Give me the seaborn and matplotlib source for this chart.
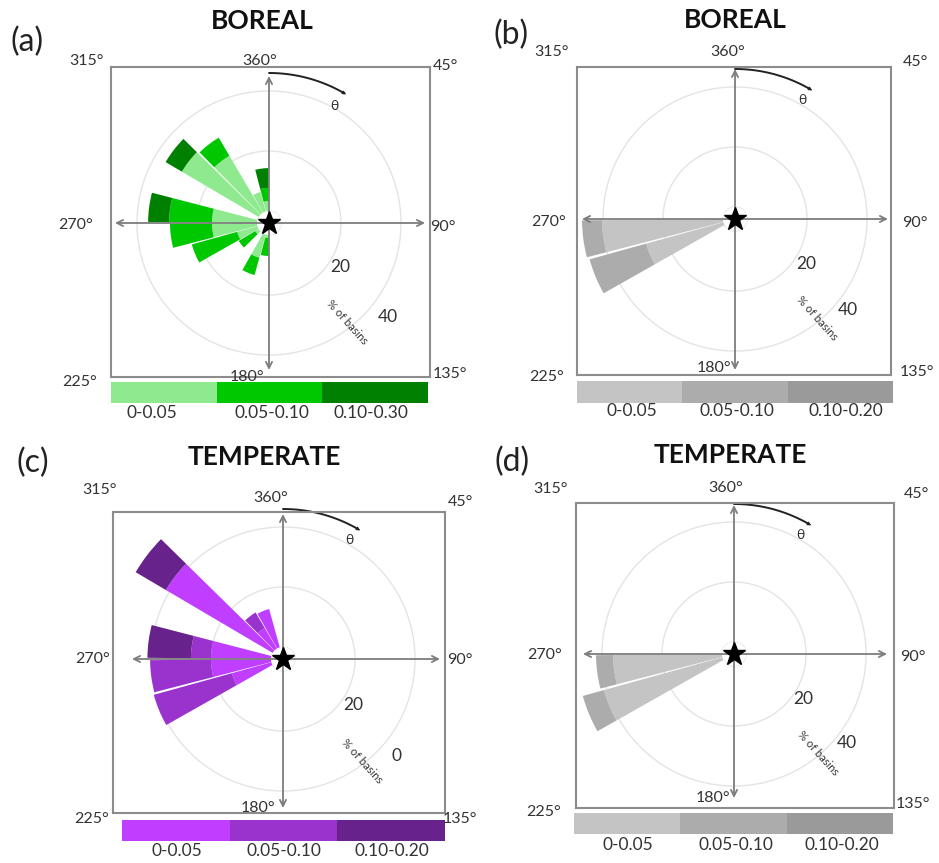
import numpy as np
import matplotlib
matplotlib.use("Agg")
import matplotlib.pyplot as plt
import seaborn as sns
from matplotlib.colors import ListedColormap

# ---------------- data (percent of basins per direction bin, stacked classes) -------------
dirs_a = [187.5, 202.5, 232.5, 247.5, 262.5, 277.5, 307.5, 322.5, 337.5, 352.5]
a_low = [1.0, 8.0, 1.3, 7.0, 15.0, 15.0, 29.7, 22.0, 6.7, 3.3]
a_mid = [6.0, 6.0, 6.4, 15.7, 14.0, 14.3, 0.0, 7.0, 0.0, 4.4]
a_high = [0.0, 0.0, 0.0, 0.0, 0.0, 7.0, 6.3, 0.0, 0.0, 6.6]

dirs_b = [247.5, 262.5]
b_low = [26.7, 40.3]
b_mid = [19.6, 6.7]
b_high = [0.0, 0.0]

dirs_c = [247.5, 262.5, 277.5, 307.5, 322.5, 337.5]
c_low = [13.7, 20.0, 20.0, 41.3, 8.0, 13.3]
c_mid = [27.0, 20.3, 6.7, 0.0, 6.0, 0.0]
c_high = [0.0, 0.0, 14.5, 11.7, 0.0, 0.0]

dirs_d = [247.5, 262.5]
d_low = [41.0, 36.3]
d_mid = [7.3, 5.7]
d_high = [0.0, 0.0]

classes_a = ["0-0.05", "0.05-0.10", "0.10-0.30"]
classes_bcd = ["0-0.05", "0.05-0.10", "0.10-0.20"]
ring_ticks = [20, 40]
compass_labels = ["315°", "360°", "45°", "270°", "90°", "225°", "180°", "135°"]

greens = ["#8fe98f", "#00c800", "#008000"]
purples = ["#bf3eff", "#9a32cd", "#68228b"]
greys = ["#c4c4c4", "#acacac", "#9a9a9a"]

# ---------------- layout helpers ----------------
W, H = 939, 863
PX = 3.0          # pixels per percent unit
HOLE = 12.0       # radius of empty centre (px)
RMAX = 60.0

sns.set_theme(style="white")
plt.rcParams["font.family"] = ["Lato", "DejaVu Sans"]

fig = plt.figure(figsize=(W / 100, H / 100), dpi=100)


def fx(x):
    return x / W


def fy(y):
    return 1 - y / H


def txt(x, y, s, size=12, **kw):
    kw.setdefault("color", "#333333")
    fig.text(fx(x), fy(y), s, ha="center", va="center", fontsize=size, **kw)


def panel(p):
    left, top, right, bottom = p["box"]
    cx, cy = p["center"]
    # ---- polar axes for the rose ----
    R = (RMAX + HOLE / PX) * PX
    pax = fig.add_axes([fx(cx - R), fy(cy + R), 2 * R / W, 2 * R / H], projection="polar")
    pax.set_theta_zero_location("N")
    pax.set_theta_direction(-1)
    pax.set_ylim(0, RMAX)
    pax.set_rorigin(-HOLE / PX)
    pax.patch.set_alpha(0)
    pax.grid(False)
    pax.set_xticks([])
    pax.set_yticks([])
    for s in pax.spines.values():
        s.set_color("none")
        s.set_linewidth(0)
    t = np.linspace(0, 2 * np.pi, 361)
    for r in [0] + ring_ticks:
        pax.plot(t, np.full_like(t, r), color="#e4e4e4", lw=1.0, zorder=1)
    th = np.deg2rad(p["dirs"])
    base = np.zeros(len(th))
    for vals, col in zip(p["segs"], p["colors"]):
        vals = np.asarray(vals, float)
        pax.bar(th, vals, width=np.deg2rad(14), bottom=base, color=col,
                edgecolor="none", linewidth=0, align="center", zorder=2)
        base = base + vals
    # theta arc
    ta = np.deg2rad(np.linspace(0, 29.5, 60))
    pax.plot(ta, np.full_like(ta, 46.0), color="#222222", lw=1.4, zorder=4)
    pax.annotate("", xy=(np.deg2rad(31), 46.0), xytext=(np.deg2rad(29), 46.0),
                 arrowprops=dict(arrowstyle="-|>", color="#222222", lw=0.8,
                                 mutation_scale=5, shrinkA=0, shrinkB=0))

    # ---- cartesian overlay: box, arrows, star ----
    ov = fig.add_axes([fx(left), fy(bottom), (right - left) / W, (bottom - top) / H])
    ov.set_xlim((left - cx) / PX, (right - cx) / PX)
    ov.set_ylim((cy - bottom) / PX, (cy - top) / PX)
    ov.patch.set_alpha(0)
    ov.set_xticks([])
    ov.set_yticks([])
    for s in ov.spines.values():
        s.set_visible(True)
        s.set_color("#8c8c8c")
        s.set_linewidth(1.5)
    L, Rr, T, B = p["arrows"]
    ap = dict(arrowstyle="<->", color="#7d7d7d", lw=1.3, mutation_scale=11,
              shrinkA=0, shrinkB=0)
    ov.annotate("", xy=((L - cx) / PX, 0), xytext=((Rr - cx) / PX, 0), arrowprops=ap)
    ov.annotate("", xy=(0, (cy - T) / PX), xytext=(0, (cy - B) / PX), arrowprops=ap)
    ov.plot([0], [0], marker="*", ms=17, color="black", zorder=6, clip_on=False)

    # ---- legend strip ----
    lx0, ly0, lx1, ly1 = p["legend"]
    lax = fig.add_axes([fx(lx0), fy(ly1), (lx1 - lx0) / W, (ly1 - ly0) / H])
    sns.heatmap(np.array([[0, 1, 2]]), ax=lax, cmap=ListedColormap(p["colors"]),
                vmin=-0.5, vmax=2.5, cbar=False, xticklabels=False, yticklabels=False)
    for lab, x in zip(p["classes"], p["leg_x"]):
        txt(x, p["leg_y"], lab, size=12.5)

    # ---- texts ----
    for s, (x, y) in zip(compass_labels, p["compass"]):
        txt(x, y, s, size=11.5)
    txt(*p["tag"], p["tag_s"], size=23, color="#222222")
    txt(*p["title"], p["title_s"], size=19, weight="bold", color="#111111")
    (x20, y20), (x40, y40) = p["rings"]
    txt(x20, y20, "20", size=12.5)
    txt(x40, y40, p.get("r40", "40"), size=12.5)
    txt(*p["basins"], "% of basins", size=8, rotation=-48)
    txt(*p["theta"], "θ", size=10, color="#333333")


panels = [
    dict(box=(111, 67, 430, 377), center=(269, 223), dirs=dirs_a,
         segs=[a_low, a_mid, a_high], colors=greens, classes=classes_a,
         arrows=(115, 425, 76, 370),
         legend=(111, 382, 428, 403), leg_x=[152, 272, 371], leg_y=413,
         compass=[(87, 61), (260, 61), (445, 66), (76, 225), (443, 227),
                  (80, 382), (247, 377), (450, 374)],
         tag=(27, 42), tag_s="(a)", title=(262, 21), title_s="BOREAL",
         rings=[(340, 267), (388, 317)], basins=(347, 322), theta=(334, 106)),
    dict(box=(577, 67, 891, 375), center=(735, 219), dirs=dirs_b,
         segs=[b_low, b_mid, b_high], colors=greys, classes=classes_bcd,
         arrows=(582, 888, 69, 370),
         legend=(577, 381, 893, 403), leg_x=[632, 737, 846], leg_y=411,
         compass=[(552, 52), (728, 52), (915, 62), (549, 222), (915, 223),
                  (547, 377), (714, 368), (917, 372)],
         tag=(511, 35), tag_s="(b)", title=(735, 20), title_s="BOREAL",
         rings=[(806, 264), (848, 310)], basins=(817, 318), theta=(802, 100)),
    dict(box=(113, 512, 445, 813), center=(283, 659), dirs=dirs_c,
         segs=[c_low, c_mid, c_high], colors=purples, classes=classes_bcd,
         arrows=(132, 440, 514, 808),
         legend=(122, 820, 445, 841), leg_x=[177, 284, 392], leg_y=851,
         compass=[(100, 490), (271, 498), (460, 502), (93, 659), (460, 660),
                  (92, 819), (258, 808), (460, 819)],
         tag=(33, 463), tag_s="(c)", title=(264, 457), title_s="TEMPERATE",
         rings=[(353, 705), (396, 756)], r40="0", basins=(362, 761), theta=(349, 540)),
    dict(box=(576, 503, 894, 808), center=(734, 654), dirs=dirs_d,
         segs=[d_low, d_mid, d_high], colors=greys, classes=classes_bcd,
         arrows=(583, 887, 505, 798),
         legend=(574, 813, 893, 834), leg_x=[628, 736, 842], leg_y=845,
         compass=[(551, 489), (726, 488), (916, 494), (545, 655), (913, 657),
                  (544, 812), (713, 798), (913, 804)],
         tag=(512, 462), tag_s="(d)", title=(730, 455), title_s="TEMPERATE",
         rings=[(803, 699), (847, 743)], basins=(818, 753), theta=(800, 535)),
]

for p in panels:
    panel(p)

fig.savefig("out.png", dpi=100)
